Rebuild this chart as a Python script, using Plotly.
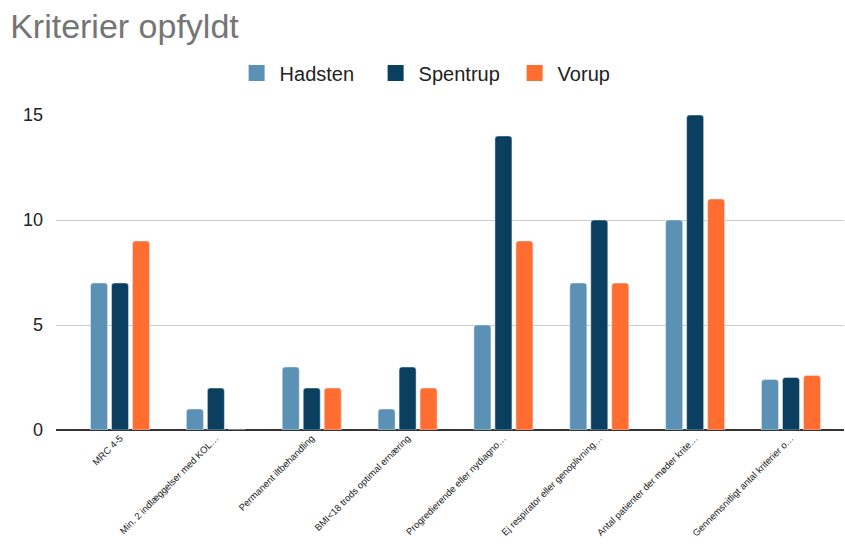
import plotly.graph_objects as go

categories = [
    "MRC 4-5",
    "Min. 2 indlæggelser med KOL…",
    "Permanent iltbehandling",
    "BMI<18 trods optimal ernæring",
    "Progredierende eller nydiagno…",
    "Ej respirator eller genoplivning…",
    "Antal patienter der møder krite…",
    "Gennemsnitligt antal kriterier o…",
]
hadsten = [7, 1, 3, 1, 5, 7, 10, 2.4]
spentrup = [7, 2, 2, 3, 14, 10, 15, 2.5]
vorup = [9, 0, 2, 2, 9, 7, 11, 2.6]
y_ticks = [0, 5, 10, 15]

series = [("Hadsten", hadsten, "#5a91b4"),
          ("Spentrup", spentrup, "#0b3f5f"),
          ("Vorup", vorup, "#ff6d31")]

fig = go.Figure()
for name, vals, col in series:
    fig.add_bar(x=categories, y=vals, name=name, marker_color=col,
                legendgroup=name, showlegend=False)
for name, vals, col in series:
    fig.add_scatter(x=[None], y=[None], mode="markers", name=name, legendgroup=name,
                    marker=dict(symbol="square", size=17, color=col))

font = "Liberation Sans, Arial, sans-serif"
fig.update_layout(
    width=845, height=546,
    margin=dict(l=56, r=1, t=115, b=116),
    paper_bgcolor="white", plot_bgcolor="white",
    font=dict(family=font, color="#222"),
    title=dict(text="Kriterier opfyldt", x=0.012, xanchor="left", y=0.952, yanchor="middle",
               font=dict(size=34, color="#757575", family=font)),
    legend=dict(orientation="h", x=0.49, xanchor="center", y=1.133, yanchor="middle",
                font=dict(size=20, color="#222"), itemwidth=36, traceorder="normal",
                entrywidth=88, entrywidthmode="pixels"),
    barmode="group", bargap=0.343, bargroupgap=0.19, barcornerradius=3,
    xaxis=dict(tickangle=-45, tickfont=dict(size=9.5, color="#222"), showline=False,
               showgrid=False, ticks="", range=[-0.668, 7.553]),
    yaxis=dict(range=[0, 15], tickvals=y_ticks, tickfont=dict(size=18, color="#222"),
               showgrid=True, gridcolor="#cccccc", gridwidth=1, zeroline=True,
               zerolinecolor="#333333", zerolinewidth=2, ticks="", ticklabelstandoff=12),
)
fig.write_html("out.html")
